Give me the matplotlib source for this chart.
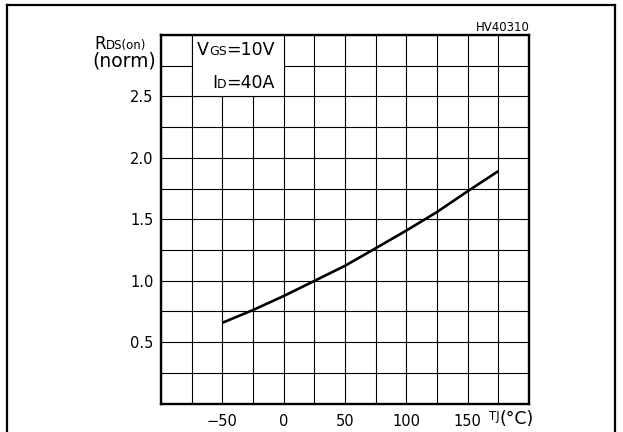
import numpy as np
import matplotlib
matplotlib.use("Agg")
import matplotlib.pyplot as plt
from matplotlib.lines import Line2D
from matplotlib.patches import Rectangle
from matplotlib.offsetbox import TextArea, HPacker, AnnotationBbox

# curve
temp_c = [-50, -25, 0, 25, 50, 75, 100, 125, 150, 175]
rds_norm = [0.657, 0.761, 0.875, 0.998, 1.121, 1.264, 1.408, 1.559, 1.728, 1.892]

x_labelled = [-50, 0, 50, 100, 150]
y_labelled = [0.5, 1.0, 1.5, 2.0, 2.5]

W, H = 623, 432


def runs(parts, align="baseline"):
    kids = [TextArea(t, textprops=dict(fontsize=s, color="black")) for t, s in parts]
    return HPacker(children=kids, align=align, pad=0, sep=0)


def put(fig, box, px, py, ha=0.5, va=0.5):
    ab = AnnotationBbox(box, (px / W, 1 - py / H), xycoords="figure fraction",
                        box_alignment=(ha, va), frameon=False, pad=0)
    fig.add_artist(ab)


fig = plt.figure(figsize=(W / 100, H / 100), dpi=100)
ax = fig.add_axes([161 / W, 1 - 403.5 / H, (529 - 161) / W, (403.5 - 35) / H])

ax.plot(temp_c, rds_norm, color="black", lw=1.9, solid_capstyle="butt", zorder=3)

ax.set_xlim(-100, 200)
ax.set_ylim(0, 3)
xt = np.arange(-100, 201, 25)
yt = np.arange(0, 3.01, 0.25)
ax.set_xticks(xt)
ax.set_yticks(yt)
ax.set_xticklabels([f"{v:g}".replace("-", "\u2212") if v in x_labelled else "" for v in xt])
ax.set_yticklabels([f"{v:.1f}" if round(v, 2) in y_labelled else "" for v in yt])
ax.tick_params(axis="both", length=0, labelsize=10.5)
ax.tick_params(axis="x", pad=7.5)
ax.tick_params(axis="y", pad=5.5)
ax.set_axisbelow(True)
ax.grid(True, color="black", lw=0.8)
for s in ax.spines.values():
    s.set_linewidth(1.7)

# white box with test conditions
ax.add_patch(Rectangle((-75, 2.5), 75, 0.5, facecolor="white", edgecolor="black",
                       lw=0.8, zorder=1.5))

put(fig, runs([("V", 12.5), ("GS", 9), ("=10V", 12.5)]), 275, 50, ha=1.0)
put(fig, runs([("I", 12.5), ("D", 9), ("=40A", 12.5)]), 275, 82.5, ha=1.0)

# axis captions
put(fig, runs([("R", 12), ("DS(on)", 8.5)]), 120.5, 44)
put(fig, runs([("(norm)", 13.5)]), 124.5, 61)
put(fig, runs([("TJ", 8.5), ("(°C)", 12.5)], align="top"), 511, 419)
put(fig, runs([("HV40310", 8.5)]), 530, 27.5, ha=1.0)

# outer frame of the datasheet figure
for xs, ys in [((7, 7), (5, H)), ((7, 615), (5, 5)), ((615, 615), (5, H))]:
    fig.add_artist(Line2D([x / W for x in xs], [1 - y / H for y in ys],
                          color="black", lw=1.6, transform=fig.transFigure))

fig.savefig("out.png", dpi=100)
